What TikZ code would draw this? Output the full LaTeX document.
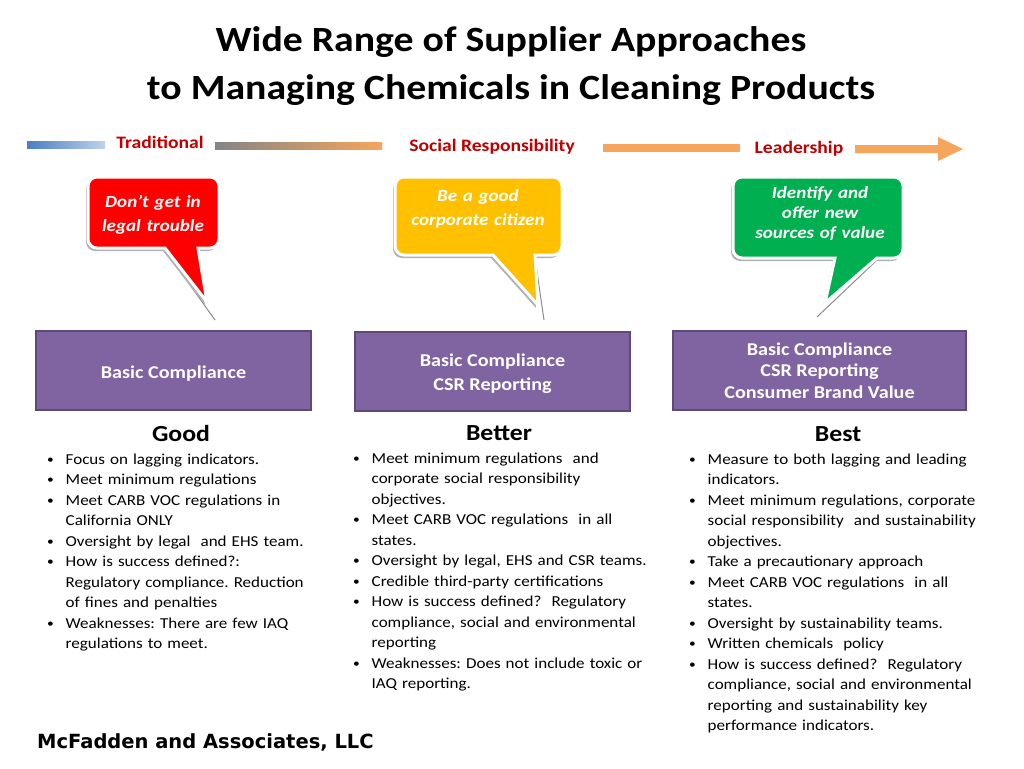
\documentclass[tikz,border=0pt]{standalone}
\usepackage{fontspec}
\setmainfont{Carlito}[FakeStretch=1.12]
\newfontfamily\footfont{DejaVu Sans}
\frenchspacing
\definecolor{labred}{HTML}{C00000}
\definecolor{calred}{HTML}{FF0000}
\definecolor{calyellow}{HTML}{FFC000}
\definecolor{calgreen}{HTML}{00B050}
\definecolor{boxpurple}{HTML}{8064A2}
\definecolor{boxedge}{HTML}{5F497A}
\definecolor{barblue}{HTML}{4A7EC2}
\definecolor{bargray}{HTML}{858585}
\definecolor{barorange}{HTML}{F5A55C}
\newcommand\bul{\makebox[19pt][l]{\hspace{0.5pt}\raisebox{0.8pt}{\fontsize{12}{12}\selectfont\textbullet}}}
\newcommand\ind{\hspace*{19pt}}
\tikzset{
  titletext/.style={font=\fontsize{35.5}{42}\selectfont\bfseries, inner sep=0pt, anchor=base},
  lab/.style={font=\fontsize{17.5}{21}\selectfont\bfseries, text=labred, inner sep=0pt, anchor=base},
  calltext/.style={font=\fontsize{17}{24}\selectfont\bfseries\itshape, text=white, inner sep=0pt, anchor=base, align=center, text width=170pt},
  pbox/.style={fill=boxpurple, draw=boxedge, line width=2pt, text=white, font=\fontsize{18}{22}\selectfont\bfseries, align=center, inner sep=0pt},
  head/.style={font=\fontsize{23}{28}\selectfont\bfseries, inner sep=0pt, anchor=base},
  listtext/.style={font=\fontsize{15.2}{20.5}\selectfont\frenchspacing, inner sep=0pt, anchor=base west, text width=330pt, align=left},
  callshadow/.style={fill=black!30},
  callborder/.style={draw=white, line width=3pt},
  tailshadow/.style={draw=black!45, line width=1pt}
}
\begin{document}
\begin{tikzpicture}[x=1pt,y=-1pt]
\useasboundingbox (0,0) rectangle (1024,768);
\fill[white] (0,0) rectangle (1024,768);

% title
\node[titletext] (t1) at (511,52) {Wide Range of Supplier Approaches};
\node[titletext] (t2) at (511,99) {to Managing Chemicals in Cleaning Products};

% timeline bar
\shade[left color=barblue, right color=barblue!35!white] (27,141) rectangle (105,148);
\shade[left color=bargray, right color=barorange] (215,142) rectangle (382,149);
\fill[barorange] (603,144) rectangle (740,152);
\fill[barorange] (855,145) -- (938,145) -- (938,137) -- (963,149) -- (938,161) -- (938,153) -- (855,153) -- cycle;
\node[lab] (trad) at (160,148) {Traditional};
\node[lab] (soc) at (492,151) {Social Responsibility};
\node[lab] (lead) at (799,153) {Leadership};

% red callout
\draw[tailshadow] (165,250) -- (215,320);
\fill[callshadow, shift={(-2,3)}] (165,248) -- (207,302) -- (198,248) [rounded corners=9pt] -- (219,248) -- (219,177) -- (88,177) -- (88,248) [sharp corners] -- cycle;
\path[callborder, fill=calred] (165,248) -- (207,302) -- (198,248) [rounded corners=9pt] -- (219,248) -- (219,177) -- (88,177) -- (88,248) [sharp corners] -- cycle;
\node[calltext] (c1) at (153,207) {Don’t get in\\legal trouble};

% yellow callout
\draw[tailshadow] (535,258) -- (544,320);
\fill[callshadow, shift={(-2,3)}] (493,255) -- (538,305) -- (535,255) [rounded corners=9pt] -- (562,255) -- (562,177) -- (395,177) -- (395,255) [sharp corners] -- cycle;
\path[callborder, fill=calyellow] (493,255) -- (538,305) -- (535,255) [rounded corners=9pt] -- (562,255) -- (562,177) -- (395,177) -- (395,255) [sharp corners] -- cycle;
\node[calltext] (c2) at (478,201) {Be a good\\corporate citizen};

% green callout
\draw[tailshadow] (877,260) -- (817,317);
\fill[callshadow, shift={(-2,3)}] (835,258) -- (825,303) -- (877,258) [rounded corners=9pt] -- (903,258) -- (903,177) -- (733,177) -- (733,258) [sharp corners] -- cycle;
\path[callborder, fill=calgreen] (835,258) -- (825,303) -- (877,258) [rounded corners=9pt] -- (903,258) -- (903,177) -- (733,177) -- (733,258) [sharp corners] -- cycle;
\node[calltext, font=\fontsize{17}{20}\selectfont\bfseries\itshape] (c3) at (820,198) {Identify and\\offer new\\sources of value};

% purple boxes
\node[pbox, minimum width=275pt, minimum height=79pt] (b1) at (173.5,370.5) {\rule{0pt}{19pt}Basic Compliance};
\node[pbox, minimum width=275pt, minimum height=79pt, font=\fontsize{18}{24}\selectfont\bfseries] (b2) at (492.5,371.5) {\rule{0pt}{17.5pt}Basic Compliance\\CSR Reporting};
\node[pbox, minimum width=293pt, minimum height=79pt, font=\fontsize{18}{21.5}\selectfont\bfseries] (b3) at (819.5,370.5) {Basic Compliance\\CSR Reporting\\Consumer Brand Value};

% headings
\node[head] (good) at (181,441) {Good};
\node[head] (better) at (499,440) {Better};
\node[head] (best) at (838,441) {Best};

% lists
\node[listtext] (l1) at (46.5,464) {\noindent\bul Focus on lagging indicators.\\
\bul Meet minimum regulations\\
\bul Meet CARB VOC regulations in\\
\ind California ONLY\\
\bul Oversight by legal\ \ and EHS team.\\
\bul How is success defined?:\\
\ind Regulatory compliance. Reduction\\
\ind of fines and penalties\\
\bul Weaknesses: There are few IAQ\\
\ind regulations to meet.};

\node[listtext] (l2) at (352.5,463) {\noindent\bul Meet minimum regulations\ \ and\\
\ind corporate social responsibility\\
\ind objectives.\\
\bul Meet CARB VOC regulations\ \ in all\\
\ind states.\\
\bul Oversight by legal, EHS and CSR teams.\\
\bul Credible third-party certifications\\
\bul How is success defined?\ \ Regulatory\\
\ind compliance, social and environmental\\
\ind reporting\\
\bul Weaknesses: Does not include toxic or\\
\ind IAQ reporting.};

\node[listtext] (l3) at (688.5,464) {\noindent\bul Measure to both lagging and leading\\
\ind indicators.\\
\bul Meet minimum regulations, corporate\\
\ind social responsibility\ \ and sustainability\\
\ind objectives.\\
\bul Take a precautionary approach\\
\bul Meet CARB VOC regulations\ \ in all\\
\ind states.\\
\bul Oversight by sustainability teams.\\
\bul Written chemicals\ \ policy\\
\bul How is success defined?\ \ Regulatory\\
\ind compliance, social and environmental\\
\ind reporting and sustainability key\\
\ind performance indicators.};

% footer
\node[anchor=base west, inner sep=0pt, font=\fontsize{19.5}{24}\footfont\bfseries] (foot) at (37,748) {McFadden and Associates, LLC};
\end{tikzpicture}
\end{document}
